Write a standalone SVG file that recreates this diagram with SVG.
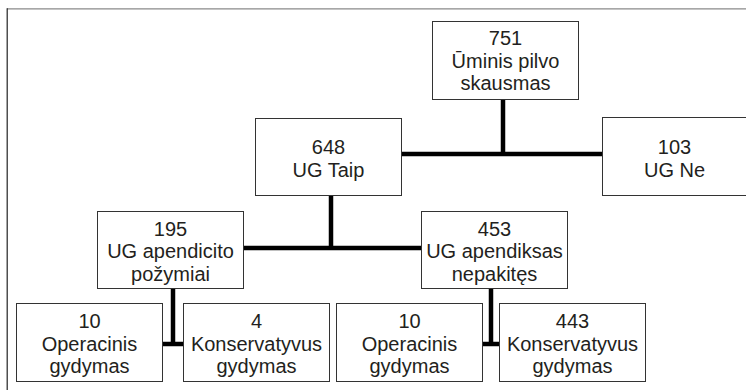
<svg xmlns="http://www.w3.org/2000/svg" width="746" height="390" viewBox="0 0 746 390">
<style>
.box{fill:#fff;stroke:#333;stroke-width:1}
.t{font-family:"Liberation Sans",Arial,sans-serif;font-size:20px;fill:#231f20;text-anchor:middle}
.c{stroke:#000;stroke-width:4.5;fill:none;stroke-linecap:butt}
</style>
<rect width="746" height="390" fill="#fff"/>
<g id="frame">
<line x1="7" y1="8.8" x2="746" y2="8.8" stroke="#8a8a8a" stroke-width="1.2"/>
<line x1="7.2" y1="8.2" x2="7.2" y2="390" stroke="#222" stroke-width="1.2"/>
</g>
<g id="connectors">
<line class="c" x1="503" y1="100" x2="503" y2="156"/>
<line class="c" x1="402" y1="154" x2="602" y2="154"/>
<line class="c" x1="331" y1="196" x2="331" y2="250"/>
<line class="c" x1="243" y1="248" x2="421" y2="248"/>
<line class="c" x1="173" y1="289" x2="173" y2="346"/>
<line class="c" x1="163" y1="344" x2="183" y2="344"/>
<line class="c" x1="491" y1="289" x2="491" y2="346"/>
<line class="c" x1="483" y1="344" x2="499" y2="344"/>
</g>
<g id="n751">
<rect class="box" x="432.5" y="21.5" width="146" height="78"/>
<text class="t" x="505.5" y="45">751</text>
<text class="t" x="505.5" y="67.5">Ūminis pilvo</text>
<text class="t" x="505.5" y="90">skausmas</text>
</g>
<g id="n648">
<rect class="box" x="255.5" y="118.5" width="146" height="77"/>
<text class="t" x="328.5" y="154">648</text>
<text class="t" x="328.5" y="177">UG Taip</text>
</g>
<g id="n103">
<rect class="box" x="602.5" y="117.5" width="146" height="78"/>
<text class="t" x="674.5" y="154">103</text>
<text class="t" x="674.5" y="177">UG Ne</text>
</g>
<g id="n195">
<rect class="box" x="97.5" y="211.5" width="146" height="77"/>
<text class="t" x="170.5" y="235.5">195</text>
<text class="t" x="170.5" y="258">UG apendicito</text>
<text class="t" x="170.5" y="280.5">požymiai</text>
</g>
<g id="n453">
<rect class="box" x="421.5" y="211.5" width="146" height="77"/>
<text class="t" x="494.5" y="235.5">453</text>
<text class="t" x="494.5" y="258">UG apendiksas</text>
<text class="t" x="494.5" y="280.5">nepakitęs</text>
</g>
<g id="n10a">
<rect class="box" x="16.5" y="303.5" width="146" height="78"/>
<text class="t" x="89.5" y="328">10</text>
<text class="t" x="89.5" y="350.5">Operacinis</text>
<text class="t" x="89.5" y="373">gydymas</text>
</g>
<g id="n4">
<rect class="box" x="183.5" y="303.5" width="146" height="78"/>
<text class="t" x="256.5" y="328">4</text>
<text class="t" x="256.5" y="350.5">Konservatyvus</text>
<text class="t" x="256.5" y="373">gydymas</text>
</g>
<g id="n10b">
<rect class="box" x="336.5" y="303.5" width="146" height="78"/>
<text class="t" x="409.5" y="328">10</text>
<text class="t" x="409.5" y="350.5">Operacinis</text>
<text class="t" x="409.5" y="373">gydymas</text>
</g>
<g id="n443">
<rect class="box" x="499.5" y="303.5" width="146" height="78"/>
<text class="t" x="572.5" y="328">443</text>
<text class="t" x="572.5" y="350.5">Konservatyvus</text>
<text class="t" x="572.5" y="373">gydymas</text>
</g>
</svg>
